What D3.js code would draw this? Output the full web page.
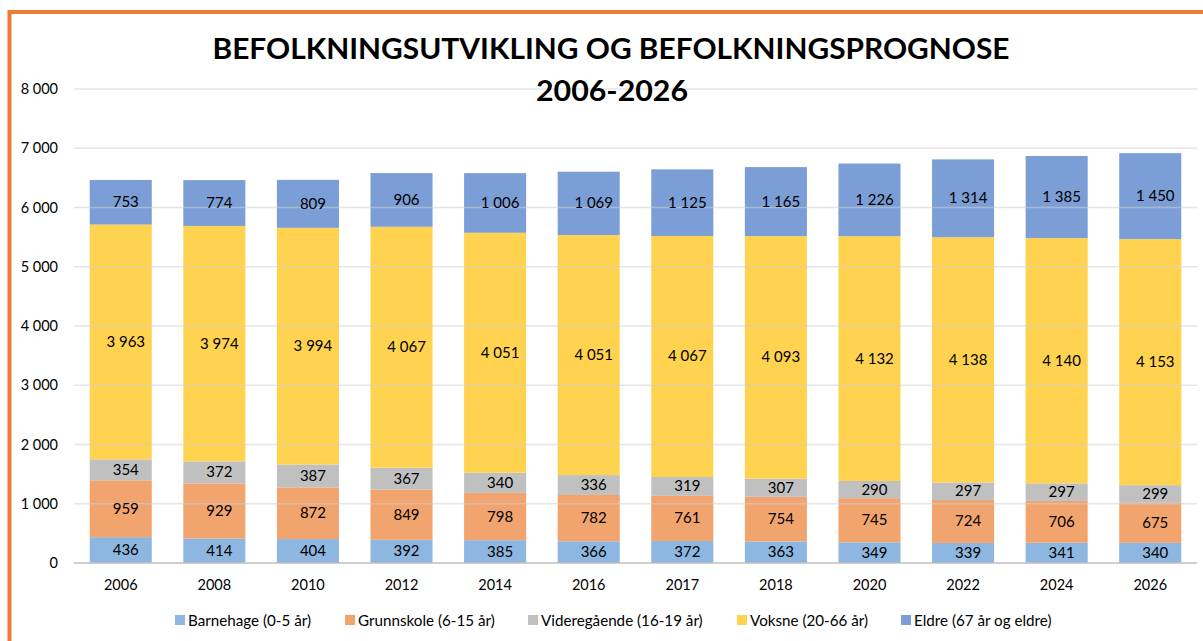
<!DOCTYPE html>
<html><head><meta charset="utf-8">
<script src="https://cdn.jsdelivr.net/npm/d3@7"></script>
<style>body{margin:0;background:#fff}svg{display:block}</style>
</head><body>
<script>
const years = ["2006","2008","2010","2012","2014","2016","2017","2018","2020","2022","2024","2026"];
const seriesNames = ["Barnehage (0-5 år)","Grunnskole (6-15 år)","Videregående (16-19 år)","Voksne (20-66 år)","Eldre (67 år og eldre)"];
const barnehage   = [436,414,404,392,385,366,372,363,349,339,341,340];
const grunnskole  = [959,929,872,849,798,782,761,754,745,724,706,675];
const videregaaende = [354,372,387,367,340,336,319,307,290,297,297,299];
const voksne      = [3963,3974,3994,4067,4051,4051,4067,4093,4132,4138,4140,4153];
const eldre       = [753,774,809,906,1006,1069,1125,1165,1226,1314,1385,1450];
const yTicks = [0,1000,2000,3000,4000,5000,6000,7000,8000];
const titleLines = ["BEFOLKNINGSUTVIKLING OG BEFOLKNINGSPROGNOSE","2006-2026"];

const colors = ["#8DB6E1","#F2A46E","#C0C0C0","#FFD34F","#7B9ED6"];
const seriesVals = [barnehage,grunnskole,videregaaende,voksne,eldre];

const W=1203,H=641;
const svg=d3.select("body").append("svg").attr("width",W).attr("height",H);
const font="Lato, 'Open Sans', sans-serif";

// orange border
svg.append("rect").attr("x",9.5).attr("y",12).attr("width",W+20).attr("height",H+20)
  .attr("fill","none").attr("stroke","#ED7D31").attr("stroke-width",4);

const x=d3.scaleBand().domain(years).range([74,1197]).paddingInner(0.337).paddingOuter(0.168);
const y=d3.scaleLinear().domain([0,8000]).range([563,89]);

const fmt=v=>d3.format(",")(v).replace(/,/g," ");

// stack
const rows=years.map((yr,i)=>{const o={year:yr};seriesNames.forEach((s,j)=>o[s]=seriesVals[j][i]);return o;});
const stacked=d3.stack().keys(seriesNames)(rows);

const gBars=svg.append("g");
stacked.forEach((layer,j)=>{
  gBars.selectAll(null).data(layer).enter().append("rect")
    .attr("x",d=>x(d.data.year)).attr("width",x.bandwidth())
    .attr("y",d=>y(d[1])).attr("height",d=>y(d[0])-y(d[1]))
    .attr("fill",colors[j]);
});

// gridlines (drawn over bars, faint)
svg.append("g").selectAll("line").data(yTicks.filter(t=>t>0)).enter().append("line")
  .attr("x1",74).attr("x2",1197).attr("y1",d=>y(d)).attr("y2",d=>y(d))
  .attr("stroke","#CFCFCF").attr("stroke-opacity",0.55).attr("stroke-width",1.3);
svg.append("line").attr("x1",74).attr("x2",1197).attr("y1",y(0)).attr("y2",y(0))
  .attr("stroke","#BFBFBF").attr("stroke-width",1.5);

// y tick labels
svg.append("g").selectAll("text").data(yTicks).enter().append("text")
  .attr("x",58).attr("y",d=>y(d)+5).attr("text-anchor","end")
  .attr("font-family",font).attr("font-size",14.5).attr("fill","#000").text(d=>fmt(d));

// x labels
svg.append("g").selectAll("text").data(years).enter().append("text")
  .attr("x",d=>x(d)+x.bandwidth()/2).attr("y",590).attr("text-anchor","middle")
  .attr("font-family",font).attr("font-size",14.5).attr("fill","#000").text(d=>d);

// value labels
stacked.forEach((layer,j)=>{
  svg.append("g").selectAll("text").data(layer).enter().append("text")
    .attr("x",d=>x(d.data.year)+x.bandwidth()/2+5)
    .attr("y",d=>(y(d[0])+y(d[1]))/2+5)
    .attr("text-anchor","middle").attr("font-family",font).attr("font-size",15).attr("fill","#000")
    .text(d=>fmt(d[1]-d[0]));
});

// title
svg.append("text").attr("x",611).attr("y",59).attr("text-anchor","middle")
  .attr("font-family",font).attr("font-weight",700).attr("font-size",28)
  .attr("textLength",797).attr("lengthAdjust","spacingAndGlyphs").text(titleLines[0]);
svg.append("text").attr("x",612).attr("y",101).attr("text-anchor","middle")
  .attr("font-family",font).attr("font-weight",700).attr("font-size",28)
  .attr("textLength",152).attr("lengthAdjust","spacingAndGlyphs").text(titleLines[1]);

// legend
const legendX=[175,345,528,737,901];
const lg=svg.append("g");
seriesNames.forEach((s,j)=>{
  lg.append("rect").attr("x",legendX[j]).attr("y",615).attr("width",10).attr("height",10).attr("fill",colors[j]);
  lg.append("text").attr("x",legendX[j]+13).attr("y",625.5).attr("font-family",font).attr("font-size",15.2)
    .attr("fill","#000").text(s);
});
</script>
</body></html>
